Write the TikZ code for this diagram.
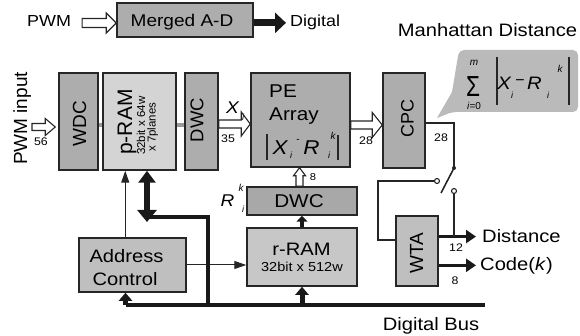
\documentclass[tikz,border=0pt]{standalone}
\usepackage{graphicx}
\usepackage{fontspec}
\setmainfont{Liberation Sans}
\newfontfamily\hf[FakeStretch=1.12]{Liberation Sans}
\usetikzlibrary{arrows.meta,calc}
\newcommand\fsz[1]{\fontsize{#1}{#1}\selectfont}
\newcommand\hollowR[5]{\draw[hol] let \p1=(#1),\p2=(#2) in (\x1,\y1+#3) -- (\x2-#5,\y1+#3) -- (\x2-#5,\y1+#4) -- (\x2,\y1) -- (\x2-#5,\y1-#4) -- (\x2-#5,\y1-#3) -- (\x1,\y1-#3) -- cycle;}
\newcommand\hollowU[5]{\draw[hol] let \p1=(#1),\p2=(#2) in (\x1-#3,\y1) -- (\x1-#3,\y2-#5) -- (\x1-#4,\y2-#5) -- (\x1,\y2) -- (\x1+#4,\y2-#5) -- (\x1+#3,\y2-#5) -- (\x1+#3,\y1) -- cycle;}
\begin{document}
\begin{tikzpicture}[x=1pt,y=-1pt,
 box/.style={draw=black!85,line width=1.5pt,fill=black!32,inner sep=0pt},
 txt/.style={inner sep=0pt,font=\hf\fsz{18}},
 rot/.style={inner sep=0pt,rotate=90,font=\fsz{19}},
 num/.style={inner sep=0pt,font=\hf\fsz{11}},
 hol/.style={draw=black!85,line width=1.1pt,fill=white,line join=miter},
 thinarr/.style={draw=black!85,line width=1pt,-{Triangle[length=12pt,width=8pt]}},
 wire/.style={draw=black!85,line width=1.6pt},
 bus/.style={draw=black!90,line width=4pt,line join=miter},
 busarr/.style={draw=black!90,line width=5pt,-{Triangle[length=8pt,width=13pt]}},
 smarr/.style={draw=black!90,line width=4.5pt,-{Triangle[length=6pt,width=11pt]}},
 dblarr/.style={draw=black!90,line width=6pt,{Triangle[length=12pt,width=17pt]}-{Triangle[length=12pt,width=19pt]}},
 outarr/.style={draw=black!90,line width=3.5pt,-{Triangle[length=10pt,width=13pt]}},
 bigarr/.style={draw=black!90,line width=7pt,-{Triangle[length=11pt,width=20pt]}},
 contact/.style={circle,draw=black!85,line width=1.1pt,fill=white,inner sep=0pt,minimum size=5pt},
 bar/.style={draw=black!85,line width=1.3pt}
]
\useasboundingbox (0,0) rectangle (580,336);

% ---------- top row
\node[txt,font=\hf\fsz{16},anchor=base west] (pwm) at (27,27) {PWM};
\node[box,minimum width=136pt,minimum height=34pt] (mad) at (185,20) {};
\node[txt,font=\hf\fsz{17},anchor=base] (madt) at (182,27) {Merged A-D};
\node[txt,font=\hf\fsz{16},anchor=base west] (dig) at (290,27) {Digital};
\hollowR{$(pwm.east)+(11,1.5)$}{mad.west}{4.5pt}{10pt}{10pt}
\draw[bigarr] (mad.east |- dig.west) -- ($(dig.west)+(-4,0)$);
\node[txt,anchor=base] (man) at (487.5,37) {Manhattan Distance};

% ---------- bubble
\fill[black!27] (437,118) -- (452,92) [rounded corners=5pt] -- (459,50) -- (578,50) -- (578,112) -- (452,112) [sharp corners] -- cycle;
\node[inner sep=0pt] (sig) at (473,87) {\scalebox{0.78}[1]{\fsz{29}Σ}};
\node[inner sep=0pt,font=\fsz{10}\itshape] (sm) at (474,63) {m};
\node[inner sep=0pt,font=\fsz{10}] (si) at (474,106) {\textit{i}=0};
\coordinate (b1t) at (497,57); \coordinate (b1b) at (497,105);
\draw[bar] (b1t) -- (b1b);
\node[txt,font=\hf\fsz{18}\itshape] (bx) at (504,83.5) {X};
\node[inner sep=0pt,font=\fsz{9}\itshape] (bxi) at (512,95) {i};
\node[inner sep=0pt,font=\fsz{16}] (bmin) at (520,83) {−};
\node[txt,font=\hf\fsz{18}\itshape] (br) at (534.5,83.5) {R};
\node[inner sep=0pt,font=\fsz{9}\itshape] (bri) at (548,95) {i};
\node[inner sep=0pt,font=\fsz{10}\itshape] (brk) at (560,69) {k};
\coordinate (b2t) at (569,57); \coordinate (b2b) at (569,105);
\draw[bar] (b2t) -- (b2b);

% ---------- main row
\node[box,minimum width=39pt,minimum height=97pt] (wdc) at (78.5,121.5) {};
\node[box,fill=black!17,minimum width=73pt,minimum height=97pt] (pram) at (139.5,121.5) {};
\node[box,minimum width=33pt,minimum height=97pt] (dwca) at (201.5,121.5) {};
\node[box,minimum width=99pt,minimum height=94pt] (pe) at (300.5,120) {};
\node[box,minimum width=42pt,minimum height=95pt] (cpc) at (404,120.5) {};

\node[rot,anchor=base] (pin) at (27,118.5) {PWM input};
\node[rot] (wdct) at (79.5,123.5) {WDC};
\node[rot,font=\fsz{21},anchor=base west] (pramt) at (132,155) {p-RAM};
\node[rot,font=\fsz{11.5},anchor=base west] (pramb) at (145,155) {32bit x 64w};
\node[rot,font=\fsz{11.5},anchor=base west] (pramc) at (155.5,152) {x 7planes};
\node[rot,font=\fsz{18.5}] (dwcat) at (197,120) {DWC};
\node[rot,font=\fsz{18}] (cpct) at (407.5,118.5) {CPC};

\node[txt,font=\hf\fsz{18.5},anchor=base west] (pet1) at (269,98) {PE};
\node[txt,font=\hf\fsz{18.5},anchor=base west] (pet2) at (269,121) {Array};
\coordinate (p1t) at (267,134); \coordinate (p1b) at (267,160);
\draw[bar] (p1t) -- (p1b);
\node[txt,font=\hf\fsz{20}\itshape] (px) at (280,147.5) {X};
\node[inner sep=0pt,font=\fsz{9}\itshape] (pxi) at (291,155) {i};
\node[inner sep=0pt,font=\fsz{10}] (pmin) at (298,141) {-};
\node[txt,font=\hf\fsz{20}\itshape] (pr) at (311.5,147.5) {R};
\node[inner sep=0pt,font=\fsz{9}\itshape] (pri) at (329,155) {i};
\node[inner sep=0pt,font=\fsz{10}\itshape] (prk) at (333,136) {k};
\coordinate (p2t) at (338,135); \coordinate (p2b) at (338,160);
\draw[bar] (p2t) -- (p2b);

% small gray links
\draw[black!40,line width=3.5pt] ($(wdc.east)+(0,3.5)$) -- ($(pram.west)+(0,3.5)$);
\draw[black!40,line width=3.5pt] ($(pram.east)+(0,3.5)$) -- ($(dwca.west)+(0,3.5)$);

% hollow arrows main row
\coordinate (pinc) at (32,127);
\hollowR{pinc}{$(wdc.west)+(-3,0)$}{3.5pt}{8.5pt}{10pt}
\node[num,anchor=base] (n56) at (41,146) {56};
\hollowR{$(dwca.east)+(0,2.5)$}{pe.west}{4pt}{12pt}{9pt}
\node[txt,font=\hf\fsz{17}\itshape] (xl) at (232.5,108) {X};
\node[inner sep=0pt,font=\fsz{9}\itshape] (xli) at (243,117) {i};
\node[num] (n35) at (228,139) {35};
\hollowR{$(pe.east)+(0,5)$}{cpc.west}{4pt}{12.5pt}{10pt}
\node[num] (n28a) at (366,141) {28};

% ---------- lower part
\node[box,fill=black!34,minimum width=110pt,minimum height=28pt] (dwcb) at (302,201) {};
\node[txt,font=\hf\fsz{18.5},anchor=base] (dwcbt) at (299,208) {DWC};
\node[box,fill=black!22,minimum width=110pt,minimum height=58pt] (rram) at (302,257) {};
\node[txt,anchor=base] (rramt) at (301.5,255) {r-RAM};
\node[txt,font=\hf\fsz{13},anchor=base] (rramb) at (302,272) {32bit x 512w};
\node[box,fill=black!25,minimum width=107pt,minimum height=54pt] (addr) at (132.5,265) {};
\node[txt,anchor=base] (addra) at (126.5,263) {Address};
\node[txt,anchor=base] (addrc) at (125,285) {Control};
\node[box,fill=black!25,minimum width=42pt,minimum height=70pt] (wta) at (417,251) {};
\node[rot] (wtat) at (416.5,253.5) {WTA};

\hollowU{$(dwcb.north)+(-2.5,0)$}{pe.south}{3.5pt}{6pt}{8pt}
\node[num,font=\hf\fsz{10}] (n8a) at (313,177) {8};
\node[txt,font=\hf\fsz{17}\itshape] (rl) at (227.5,201) {R};
\node[inner sep=0pt,font=\fsz{10}\itshape] (rlk) at (241,188) {k};
\node[inner sep=0pt,font=\fsz{9}\itshape] (rli) at (243,209) {i};

\draw[smarr] (rram.north) -- (dwcb.south);

% thin arrows from Address Control
\coordinate (ac) at ($(addr.north west)+(47,0)$);
\draw[thinarr] (ac) -- (ac |- pram.south);
\draw[thinarr] (addr.east) -- (addr.east -| rram.west);

% thick bus and double arrow
\coordinate (dblb) at (147,222);
\coordinate (jn) at (208,217);
\coordinate (busL) at (125.5,305);
\coordinate (busR) at (485,305);
\draw[bus] (dblb |- jn) -- (jn) -- (jn |- busL);
\draw[dblarr] (dblb |- pram.south) -- (dblb);
\draw[bus] (busL) -- (busR);
\draw[busarr] (busL) -- (busL |- addr.south);
\draw[busarr] (rram.south |- busL) -- (rram.south);
\node[txt,anchor=base] (dbus) at (431,330) {Digital Bus};

% ---------- CPC output, switch, WTA
\node[num] (n28b) at (441,138) {28};
\coordinate (swtop) at (454,168);
\draw[wire] ($(cpc.east)+(0,2.5)$) -| (swtop);
\fill[black!85] (swtop) circle (2pt);
\coordinate (blade) at (441,193);
\draw[wire] (swtop) -- (blade);
\node[contact] (ca) at (437,181) {};
\node[contact] (cb) at (454,191) {};
\coordinate (lw) at (378,240);
\draw[wire] (ca.west) -| (lw) -- (lw -| wta.west);

\node[txt,anchor=base west] (dist) at (482,243) {Distance};
\node[txt,anchor=base west] (code) at (480,270) {Code(\textit{k})};
\draw[outarr] (wta.east |- dist.west) -- ($(dist.west)+(-6,0)$);
\draw[wire] (cb.south) -- (cb |- dist.west);
\draw[outarr] (wta.east |- code.west) -- ($(code.west)+(-4,0)$);
\node[num] (n12) at (456,248) {12};
\node[num] (n8b) at (455,281) {8};
\end{tikzpicture}
\end{document}
